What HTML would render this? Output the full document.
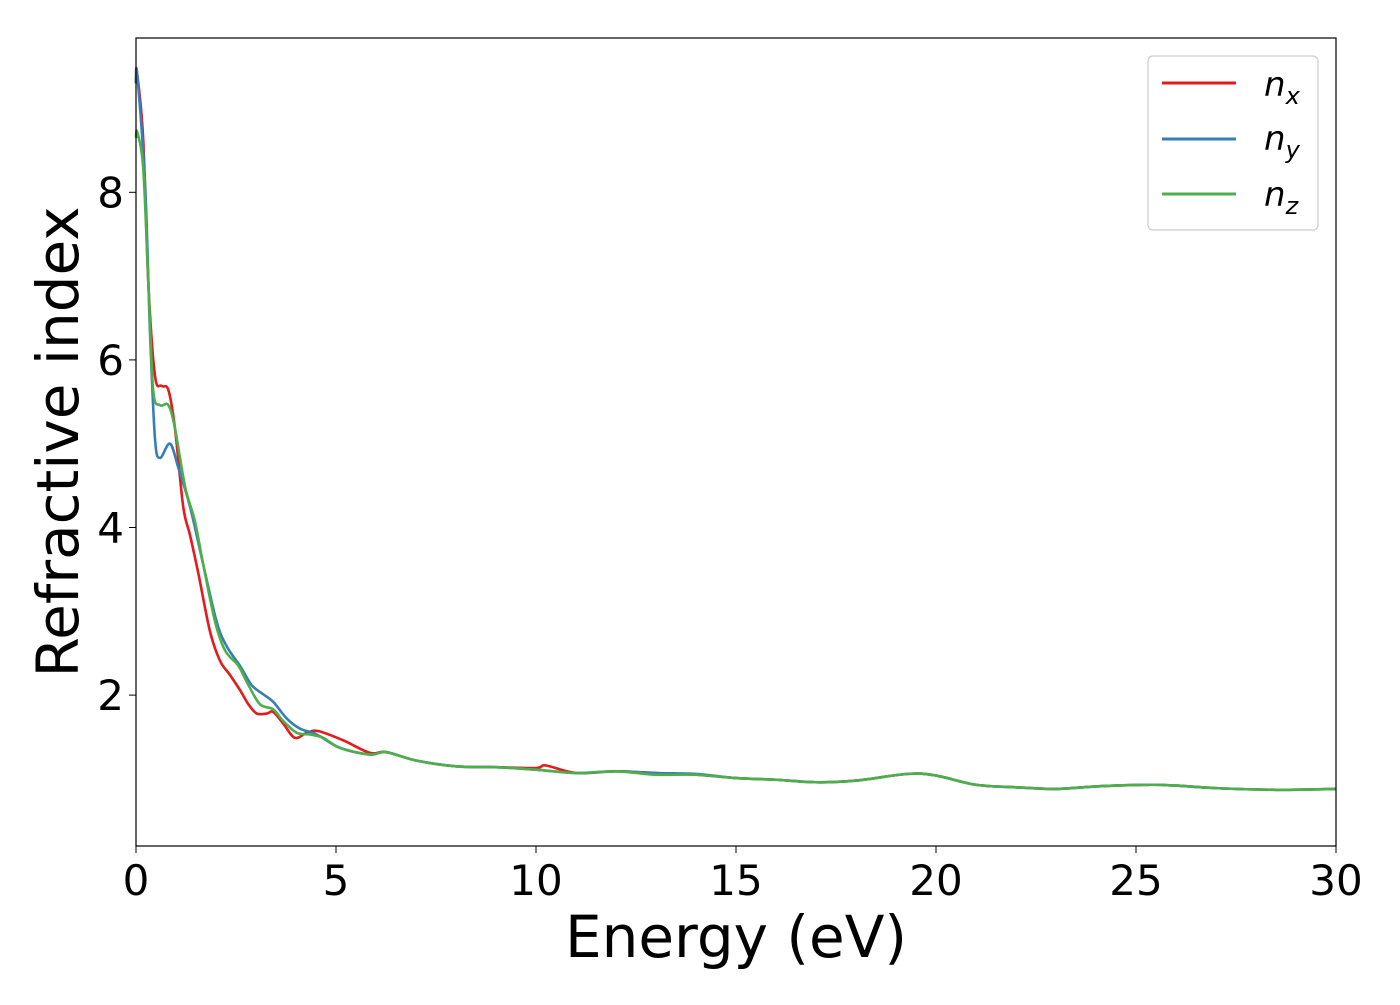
<!DOCTYPE html>
<html><head><meta charset="utf-8"><style>
body{margin:0;background:#fff}
svg{font-family:"DejaVu Sans","Liberation Sans",sans-serif}
</style></head><body>
<svg width="1400" height="1000" xmlns="http://www.w3.org/2000/svg">
<rect width="1400" height="1000" fill="#fff"/>
<g id="series"></g>
<rect x="136" y="38" width="1200" height="808" fill="none" stroke="#000" stroke-width="1.2"/>
<g id="ticks"></g>
<text x="736" y="957" font-size="58" text-anchor="middle">Energy (eV)</text>
<text transform="translate(78,442) rotate(-90)" font-size="58" text-anchor="middle">Refractive index</text>
<g>
<rect x="1148" y="56" width="170" height="174" rx="5" fill="#fff" stroke="#ccc" stroke-width="1.2"/>
<line x1="1162" y1="83" x2="1236" y2="83" stroke="#e41a1c" stroke-width="3"/>
<text x="1264" y="96" font-size="34" font-style="italic">n<tspan font-size="24" dy="8">x</tspan></text>
<line x1="1162" y1="139" x2="1236" y2="139" stroke="#377eb8" stroke-width="3"/>
<text x="1264" y="150" font-size="34" font-style="italic">n<tspan font-size="24" dy="8">y</tspan></text>
<line x1="1162" y1="194" x2="1236" y2="194" stroke="#4daf4a" stroke-width="3"/>
<text x="1264" y="206" font-size="34" font-style="italic">n<tspan font-size="24" dy="8">z</tspan></text>
</g>
</svg>
<script>
const xTicks=[0,5,10,15,20,25,30];
const yTicks=[2,4,6,8];
const tail=[[6.25,1.32],[7,1.22],[8,1.15],[9,1.14],[10,1.11],[11,1.07],[12,1.09],[13,1.07],[14,1.05],[15,1.01],[16,0.99],[17,0.96],[18,0.98],[19.3,1.06],[20,1.04],[21,0.93],[22,0.9],[23,0.88],[24,0.91],[25.3,0.93],[26,0.92],[27,0.89],[28.5,0.87],[30,0.88]];
const nxHead=[[0,9.3],[0.03,9.41],[0.18,8.63],[0.31,6.9],[0.475,5.81],[0.64,5.69],[0.81,5.64],[0.975,5.18],[1.18,4.25],[1.35,3.91],[1.56,3.45],[1.85,2.76],[2.1,2.41],[2.35,2.24],[2.6,2.06],[2.81,1.89],[3.02,1.78],[3.27,1.78],[3.43,1.8],[3.68,1.66],[3.97,1.49],[4.27,1.55],[4.56,1.57],[5.18,1.46],[5.85,1.31]];
const nyHead=[[0,9.3],[0.03,9.41],[0.23,8.06],[0.35,6.33],[0.475,5.06],[0.6,4.83],[0.85,5.0],[1.06,4.71],[1.35,4.25],[1.68,3.56],[2.02,2.87],[2.27,2.58],[2.6,2.35],[2.89,2.12],[3.18,2.01],[3.43,1.92],[3.77,1.72],[4.1,1.6],[4.52,1.53],[5.1,1.37],[5.85,1.29]];
const nzHead=[[0,8.65],[0.03,8.72],[0.18,8.29],[0.31,6.9],[0.43,5.64],[0.6,5.46],[0.81,5.46],[0.975,5.18],[1.23,4.48],[1.47,4.08],[1.68,3.56],[1.98,2.87],[2.23,2.53],[2.56,2.35],[2.81,2.12],[3.1,1.89],[3.43,1.83],[3.68,1.69],[4.02,1.55],[4.35,1.53],[4.68,1.49],[5.1,1.37],[5.85,1.29]];
const nxTailMod=[[10.25,1.16]];
const nx=nxHead.concat(tail.map(p=>p[0]===10?[10,1.13]:p)).concat(nxTailMod).sort((a,b)=>a[0]-b[0]);
const ny=nyHead.concat(tail.map(p=>p[0]===14?[14,1.06]:p));
const nz=nzHead.concat(tail.map(p=>p[0]===13?[13,1.05]:p));
const X=e=>136+40*e, Y=n=>862.7-83.8*n;
const NS='http://www.w3.org/2000/svg';
function pathFor(d){
  const p=d.map(q=>[X(q[0]),Y(q[1])]);
  let s='M'+p[0][0]+','+p[0][1];
  for(let i=0;i<p.length-1;i++){
    const p0=p[Math.max(0,i-1)],p1=p[i],p2=p[i+1],p3=p[Math.min(p.length-1,i+2)];
    const c1=[p1[0]+(p2[0]-p0[0])/6,p1[1]+(p2[1]-p0[1])/6];
    const c2=[p2[0]-(p3[0]-p1[0])/6,p2[1]-(p3[1]-p1[1])/6];
    s+=' C'+c1+' '+c2+' '+p2;
  }
  return s;
}
const g=document.getElementById('series');
[[nx,'#e41a1c','series-nx'],[ny,'#377eb8','series-ny'],[nz,'#4daf4a','series-nz']].forEach(([d,c,nm])=>{
  const el=document.createElementNS(NS,'path');
  el.setAttribute('d',pathFor(d));el.setAttribute('fill','none');el.setAttribute('stroke',c);el.setAttribute('stroke-width','2.6');
  
  
  g.appendChild(el);
});
const t=document.getElementById('ticks');
xTicks.forEach(v=>{
  const l=document.createElementNS(NS,'line');
  l.setAttribute('x1',X(v));l.setAttribute('x2',X(v));l.setAttribute('y1',846);l.setAttribute('y2',853);l.setAttribute('stroke','#000');
  
  
  t.appendChild(l);
  const tx=document.createElementNS(NS,'text');
  tx.setAttribute('x',X(v));tx.setAttribute('y',895);tx.setAttribute('font-size','42');tx.setAttribute('text-anchor','middle');tx.textContent=v;
  
  
  t.appendChild(tx);
});
yTicks.forEach(v=>{
  const l=document.createElementNS(NS,'line');
  l.setAttribute('x1',129);l.setAttribute('x2',136);l.setAttribute('y1',Y(v));l.setAttribute('y2',Y(v));l.setAttribute('stroke','#000');
  
  
  t.appendChild(l);
  const tx=document.createElementNS(NS,'text');
  tx.setAttribute('x',124);tx.setAttribute('y',Y(v)+15);tx.setAttribute('font-size','42');tx.setAttribute('text-anchor','end');tx.textContent=v;
  
  
  t.appendChild(tx);
});
</script>
</body></html>
